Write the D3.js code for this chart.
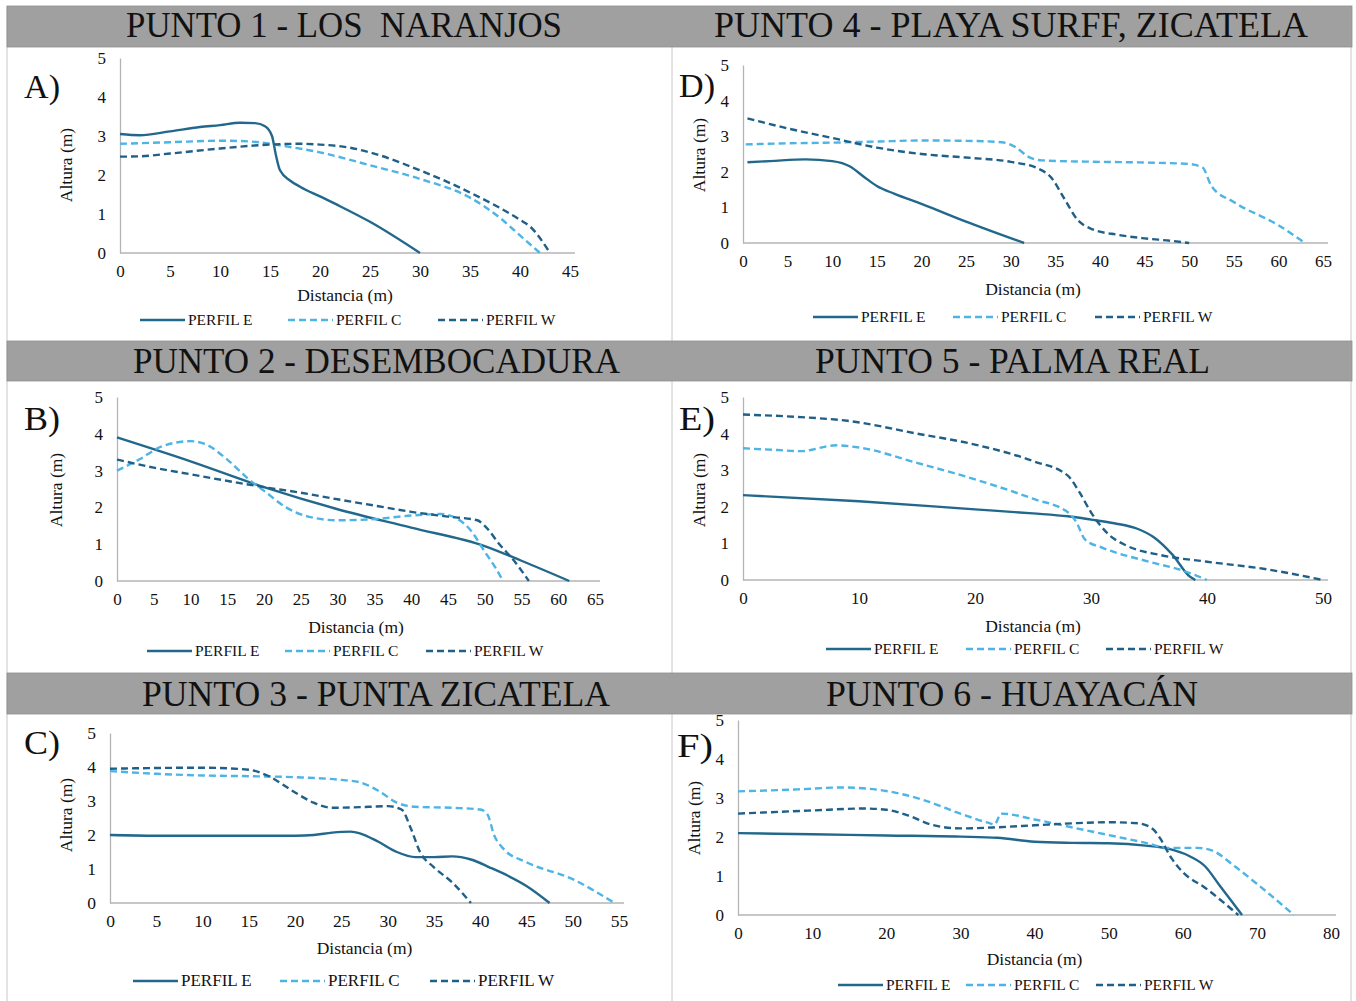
<!DOCTYPE html>
<html><head><meta charset="utf-8">
<script src="https://cdn.jsdelivr.net/npm/d3@7"></script>
<style>body{margin:0;background:#fff}svg{display:block}text{font-family:"Liberation Serif","Times New Roman",serif;fill:#111}</style>
</head><body>
<script>
// ---------- DATA ----------
const seriesNames = ["PERFIL E", "PERFIL C", "PERFIL W"];
const yTicks = [0, 1, 2, 3, 4, 5];

const titles = ["PUNTO 1 - LOS  NARANJOS", "PUNTO 4 - PLAYA SURFF, ZICATELA", "PUNTO 2 - DESEMBOCADURA",
                "PUNTO 5 - PALMA REAL", "PUNTO 3 - PUNTA ZICATELA", "PUNTO 6 - HUAYAC\u00c1N"];
const letters = ["A)", "D)", "B)", "E)", "C)", "F)"];

const xTicksA = [0,5,10,15,20,25,30,35,40,45];
const xTicksD = [0,5,10,15,20,25,30,35,40,45,50,55,60,65];
const xTicksB = [0,5,10,15,20,25,30,35,40,45,50,55,60,65];
const xTicksE = [0,10,20,30,40,50];
const xTicksC = [0,5,10,15,20,25,30,35,40,45,50,55];
const xTicksF = [0,10,20,30,40,50,60,70,80];

// Punto 1 - Los Naranjos
const p1E = [[0,3.05],[2,3.02],[5,3.12],[8,3.23],[10,3.28],[12,3.34],[13.5,3.33],[14.5,3.25],[15.2,3.0],[15.6,2.5],[16,2.12],[17,1.86],[18,1.7],[20,1.45],[22,1.2],[25,0.8],[30,0]];
const p1C = [[0,2.8],[5,2.84],[10,2.88],[13,2.86],[15,2.8],[16,2.76],[20,2.58],[25,2.25],[30,1.9],[35,1.42],[38,0.9],[40,0.45],[42,0]];
const p1W = [[0,2.47],[2,2.48],[5,2.55],[10,2.68],[15,2.78],[18,2.8],[20,2.78],[23,2.7],[25,2.58],[30,2.12],[35,1.55],[40,0.85],[41,0.68],[43,0]];
// Punto 4 - Playa Surff, Zicatela
const p4E = [[0.5,2.27],[3,2.3],[7,2.35],[10,2.3],[12,2.15],[13.5,1.87],[15,1.6],[17,1.38],[20,1.1],[25,0.6],[31.5,0]];
const p4C = [[0.3,2.77],[5,2.8],[10,2.82],[15,2.85],[20,2.88],[25,2.87],[29,2.83],[30.5,2.7],[32,2.42],[33.5,2.32],[40,2.28],[45,2.26],[50,2.22],[51.5,2.12],[52.5,1.6],[55,1.15],[60,0.5],[63,0]];
const p4W = [[0.5,3.5],[5,3.22],[10,2.95],[15,2.68],[20,2.5],[25,2.4],[30,2.28],[33,2.1],[34.5,1.85],[36,1.25],[37.5,0.65],[39,0.4],[42,0.23],[45,0.13],[48,0.06],[50,0]];
// Punto 2 - Desembocadura
const p2E = [[0,3.9],[10,3.25],[20,2.55],[30,1.95],[40,1.45],[50,0.95],[55,0.55],[61.5,0]];
const p2C = [[0,3.0],[3,3.3],[6,3.65],[10,3.8],[12,3.72],[15,3.3],[18,2.75],[20,2.45],[23,2.0],[26,1.75],[30,1.65],[35,1.68],[40,1.78],[44,1.82],[46,1.72],[48,1.4],[50,0.8],[51.5,0.35],[52.5,0]];
const p2W = [[0,3.3],[5,3.08],[10,2.9],[15,2.72],[20,2.55],[25,2.4],[30,2.22],[35,2.05],[40,1.88],[45,1.75],[49,1.65],[50,1.5],[52,1.0],[54,0.55],[56,0]];
// Punto 5 - Palma Real
const p5E = [[0,2.32],[10,2.15],[20,1.93],[25,1.82],[28,1.74],[30,1.65],[32,1.55],[34,1.4],[35.5,1.15],[37,0.7],[38.5,0.1],[39,0]];
const p5C = [[0,3.6],[3,3.55],[5,3.52],[8,3.68],[10,3.62],[15,3.2],[20,2.75],[25,2.22],[28,1.85],[28.7,1.6],[29.5,1.1],[31,0.88],[35,0.5],[38,0.25],[40,0]];
const p5W = [[0,4.52],[5,4.45],[9,4.35],[15,4.0],[20,3.7],[25,3.25],[28,2.85],[29,2.4],[30,1.85],[31.5,1.25],[33,0.95],[36,0.68],[40,0.5],[45,0.3],[50,0]];
// Punto 3 - Punta Zicatela
const p3E = [[0,2.0],[5,1.98],[10,1.98],[15,1.98],[20,1.98],[22,2.0],[24,2.07],[26,2.1],[27,2.05],[29,1.8],[31,1.5],[33,1.35],[35,1.35],[37,1.37],[39,1.28],[41,1.05],[43,0.8],[45,0.5],[47.5,0]];
const p3C = [[0,3.88],[5,3.8],[10,3.75],[15,3.73],[20,3.7],[25,3.62],[27,3.55],[29,3.3],[31,2.95],[33,2.83],[37,2.8],[40,2.75],[40.8,2.6],[41.5,2.0],[42.5,1.6],[45,1.2],[50,0.7],[54.5,0]];
const p3W = [[0,3.95],[5,3.97],[10,3.98],[15,3.92],[17,3.75],[20,3.25],[22,2.95],[24,2.8],[28,2.83],[30,2.85],[31.5,2.75],[32.5,2.2],[33.5,1.5],[35,1.05],[37,0.6],[39,0]];
// Punto 6 - Huayacán
const p6E = [[0,2.1],[10,2.07],[20,2.04],[30,2.01],[35,1.98],[40,1.88],[45,1.85],[50,1.84],[55,1.78],[58,1.7],[61,1.5],[63,1.25],[65,0.75],[67,0.25],[68,0]];
const p6C = [[0,3.17],[8,3.22],[14,3.27],[20,3.18],[25,2.95],[30,2.6],[34,2.35],[34.6,2.32],[35.5,2.6],[40,2.45],[45,2.25],[50,2.05],[55,1.85],[58,1.72],[62,1.72],[64,1.65],[67,1.25],[70,0.8],[75,0]];
const p6W = [[0,2.6],[10,2.68],[17,2.73],[20,2.7],[23,2.55],[26,2.32],[30,2.22],[35,2.25],[40,2.3],[45,2.35],[50,2.38],[54,2.35],[56,2.2],[57,1.95],[58.5,1.45],[60,1.1],[63,0.7],[67.5,0]];

// ---------- LAYOUT ----------
const W = 1356, H = 1001;
const colors = ["#22688c", "#4db4e6", "#1f5f88"];
const dashes = [null, "7,4", "7,4"];

const panels = [
  {data:[p1E,p1C,p1W], ticks:xTicksA, xmax:45, x0:120, x1:570, y0:253, y1:58,  tx:126, tw:436, tb:37,  lx:24,  ly:98,  ax:48, ay:165, axy:301, legY:320, legX:[140,288,438], tick:17, leg:15.5},
  {data:[p4E,p4C,p4W], ticks:xTicksD, xmax:65, x0:743, x1:1323,y0:243, y1:65,  tx:714, tw:594, tb:37,  lx:679, ly:97,  ax:38, ay:155, axy:295, legY:317, legX:[813,953,1095], tick:17, leg:15.5},
  {data:[p2E,p2C,p2W], ticks:xTicksB, xmax:65, x0:117, x1:595, y0:581, y1:397, tx:133, tw:487, tb:373, lx:24,  ly:430, ax:55, ay:490, axy:633, legY:651, legX:[147,285,426], tick:17, leg:15.5},
  {data:[p5E,p5C,p5W], ticks:xTicksE, xmax:50, x0:743, x1:1323,y0:580, y1:397, tx:815, tw:395, tb:373, lx:679, ly:430, ax:38, ay:490, axy:632, legY:649, legX:[826,966,1106], tick:17, leg:15.5},
  {data:[p3E,p3C,p3W], ticks:xTicksC, xmax:55, x0:110, x1:619, y0:903, y1:733, tx:142, tw:468, tb:706, lx:24,  ly:754, ax:38, ay:815, axy:954, legY:981, legX:[133,280,430], tick:17.5, leg:17},
  {data:[p6E,p6C,p6W], ticks:xTicksF, xmax:80, x0:738, x1:1331,y0:915, y1:720, tx:826, tw:372, tb:706, lx:677, ly:757, ax:38, ay:818, axy:965, legY:985, legX:[838,966,1096], tick:17, leg:15.5}
];

const svg = d3.select("body").append("svg").attr("width", W).attr("height", H);
svg.append("rect").attr("width", W).attr("height", H).attr("fill", "#fff");

// panel borders
[7, 672, 1351].forEach(x => svg.append("line").attr("x1", x).attr("x2", x).attr("y1", 6).attr("y2", 1001)
  .attr("stroke", "#c8c8c8").attr("stroke-width", 1));

// title bars
[[6,47],[341,381],[673,714]].forEach(b => {
  svg.append("rect").attr("x", 7).attr("y", b[0]).attr("width", 1345).attr("height", b[1]-b[0])
    .attr("fill", "#a0a0a0").attr("stroke", "#8e8e8e").attr("stroke-width", 0.8);
});

const serif = '"Liberation Serif","Times New Roman",serif';

panels.forEach((p, i) => {
  const g = svg.append("g");
  const x = d3.scaleLinear().domain([0, p.xmax]).range([p.x0, p.x1]);
  const y = d3.scaleLinear().domain([0, 5]).range([p.y0, p.y1]);

  g.append("text").attr("x", p.tx).attr("y", p.tb)
    .attr("font-size", 36).attr("fill", "#000")
    .attr("textLength", p.tw).attr("lengthAdjust", "spacingAndGlyphs")
    .style("white-space", "pre").text(titles[i]);
  g.append("text").attr("x", p.lx).attr("y", p.ly).attr("font-size", 34)
    .attr("textLength", 36).attr("lengthAdjust", "spacingAndGlyphs").text(letters[i]);

  // axes
  const xa = d3.axisBottom(x).tickValues(p.ticks).tickSize(0).tickPadding(12).tickFormat(d3.format("d"));
  const ya = d3.axisLeft(y).tickValues(yTicks).tickSize(0).tickPadding(14).tickFormat(d3.format("d"));
  const gx = g.append("g").attr("transform", `translate(0,${p.y0})`).call(xa);
  const gy = g.append("g").attr("transform", `translate(${p.x0},0)`).call(ya);
  [gx, gy].forEach(a => {
    a.attr("font-family", serif);
    a.select(".domain").attr("stroke", "#b4b4b4").attr("stroke-width", 1.3);
    a.selectAll("text").attr("font-size", p.tick).attr("fill", "#111").style("font-family", serif);
  });
  gx.select(".domain").attr("d", `M${p.x0},0H${p.x1 + 5}`);

  g.append("text").attr("x", (p.x0 + p.x1)/2).attr("y", p.axy).attr("text-anchor", "middle")
    .attr("font-size", 17.5).text("Distancia (m)");
  g.append("text").attr("transform", `translate(${p.x0 - p.ax},${p.ay}) rotate(-90)`).attr("text-anchor", "middle")
    .attr("font-size", 17.5).text("Altura (m)");

  const line = d3.line().x(d => x(d[0])).y(d => y(d[1])).curve(d3.curveMonotoneX);
  p.data.forEach((s, k) => {
    g.append("path").attr("d", line(s)).attr("fill", "none").attr("stroke", colors[k])
      .attr("stroke-width", 2.4).attr("stroke-dasharray", dashes[k]);
  });

  // legend
  seriesNames.forEach((n, k) => {
    const lx = p.legX[k];
    g.append("line").attr("x1", lx).attr("x2", lx + 45).attr("y1", p.legY).attr("y2", p.legY)
      .attr("stroke", colors[k]).attr("stroke-width", 2.6).attr("stroke-dasharray", dashes[k]);
    g.append("text").attr("x", lx + 48).attr("y", p.legY + 5).attr("font-size", p.leg).attr("fill", "#222").text(n);
  });
});
</script>
</body></html>
